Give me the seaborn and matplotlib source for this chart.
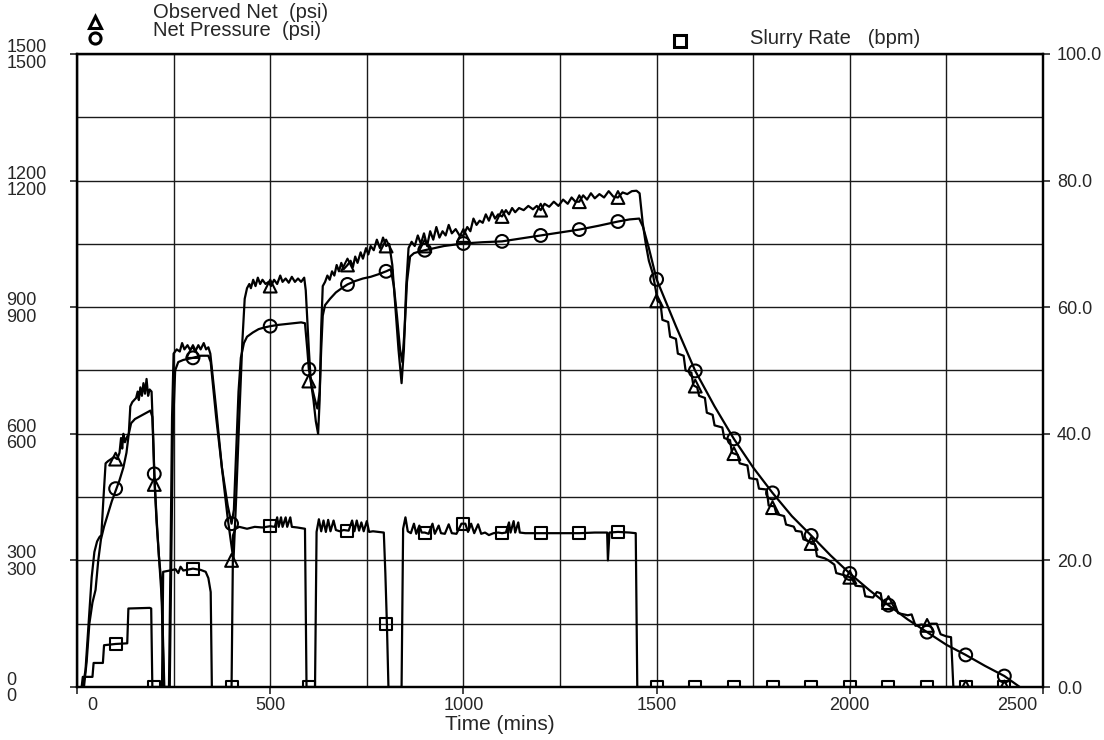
import matplotlib
matplotlib.use("Agg")
import matplotlib.pyplot as plt
import matplotlib.transforms as mtransforms
from matplotlib.lines import Line2D
from matplotlib.ticker import MultipleLocator
import seaborn as sns

# ---------------- data ----------------
# Observed Net pressure trace (time in mins, psi)
obs_time = [15, 22, 30, 38, 45, 52, 58, 63, 68, 74, 80, 88, 96, 104, 110, 114, 117, 120, 124, 128,
            134, 138, 143, 148, 153, 157, 160, 164, 168, 172, 176, 180, 184, 188, 193, 197, 201, 206,
            212, 218, 225, 238,
            242, 246, 250, 258, 266, 272, 278, 286, 292, 300, 306, 314, 320, 328, 334, 340, 345, 360,
            375, 390, 405, 412, 420, 428, 434, 440, 446, 450, 456, 462, 468, 474, 480, 488, 496, 502,
            510, 518, 526, 532, 540, 548, 556, 564, 572, 580, 588, 592, 600, 605, 612, 618, 624, 628,
            632, 636, 642, 648, 654, 660, 666, 672, 678, 684, 690, 700, 708, 714, 720, 726, 734, 740,
            748, 754, 760, 768, 776, 784, 792, 800, 808, 816, 824, 832, 840, 846, 852, 858, 866, 874,
            882, 890, 898, 906, 914, 922, 930, 938, 946, 954, 962, 970, 980, 990, 1000, 1010, 1018,
            1026, 1034, 1042, 1050, 1058, 1066, 1074, 1082, 1090, 1100, 1110, 1118, 1126, 1134, 1144,
            1156, 1168, 1180, 1190, 1200, 1210, 1222, 1234, 1246, 1258, 1270, 1280, 1290, 1300, 1310,
            1320, 1330, 1340, 1352, 1364, 1376, 1388, 1400, 1412, 1424, 1436, 1448, 1456, 1464, 1472,
            1480, 1490, 1498, 1502, 1510, 1515, 1530, 1535, 1550, 1555, 1570, 1575, 1590, 1595, 1605,
            1610, 1625, 1630, 1645, 1650, 1670, 1675, 1690, 1695, 1710, 1715, 1735, 1740, 1760, 1765,
            1785, 1790, 1805, 1810, 1830, 1835, 1855, 1860, 1875, 1880, 1895, 1900, 1910, 1915, 1935,
            1945, 1960, 1965, 1985, 1995, 2005, 2015, 2035, 2040, 2060, 2070, 2080, 2085, 2105, 2115,
            2125, 2150, 2160, 2170, 2185, 2200, 2210, 2225, 2235, 2250, 2262, 2268, 2400]
obs_psi = [0, 40, 150, 260, 320, 345, 355, 360, 440, 530, 535, 540, 545, 540, 555, 590, 565, 600, 580, 590,
           600, 665, 675, 680, 685, 700, 680, 710, 690, 720, 695, 730, 690, 705, 700, 600, 480, 390,
           310, 250, 0, 0,
           300, 640, 790, 800, 795, 815, 800, 810, 800, 805, 795, 810, 800, 815, 800, 805, 790, 660,
           520, 400, 300, 450, 640, 820, 920, 945, 955, 945, 965, 950, 970, 955, 965, 955, 960, 950,
           965, 955, 975, 960, 968, 958, 972, 960, 968, 960, 970, 940, 800, 725, 680, 630, 600, 680,
           850, 950, 960, 975, 965, 985, 975, 1000, 985, 1005, 990, 1000, 1010, 995, 1020, 1005, 1030, 1015,
           1040, 1025, 1045, 1035, 1060, 1040, 1065, 1045, 1050, 1000, 900, 800, 720, 800, 950, 1040, 1055, 1045,
           1070, 1050, 1075, 1045, 1080, 1060, 1090, 1065, 1080, 1070, 1095, 1075, 1085, 1070, 1070, 1090, 1080,
           1110, 1095, 1105, 1100, 1120, 1105, 1125, 1110, 1120, 1115, 1130, 1120, 1135, 1125, 1135,
           1130, 1140, 1132, 1140, 1130, 1145, 1138, 1150, 1140, 1155, 1145, 1160, 1150, 1150, 1165,
           1155, 1170, 1158, 1168, 1160, 1175, 1162, 1160, 1172, 1168, 1175, 1176, 1170, 1100, 1050,
           1010, 980, 940, 915, 910, 870, 865, 830, 825, 790, 785, 750, 745, 715, 710,
           690, 685, 650, 645, 620, 615, 590, 585, 555, 550, 530, 525, 495, 492, 470,
           468, 430, 428, 410, 405, 385, 380, 370, 368, 350, 345, 340, 338, 310, 305,
           300, 290, 270, 265, 262, 258, 240, 238, 215, 212, 225, 222, 195, 198, 200,
           175, 170, 172, 145, 148, 146, 150, 150, 125, 120, 118, 0, 0]

# Net Pressure trace (time in mins, psi)
net_time = [18, 25, 32, 40, 48, 55, 62, 70, 80, 90, 100, 110, 120, 128, 134, 140, 150, 160, 170, 180,
            190, 195, 200, 206, 212, 220, 226, 240, 244, 248, 254, 262, 275, 290, 300, 320, 340, 346,
            360, 375, 390, 400, 406, 412, 418, 424, 432, 440, 455, 470, 485, 500, 520, 540, 560, 580,
            590, 596, 600, 608, 616, 622, 628, 632, 636, 642, 655, 670, 685, 700, 720, 740, 760, 780,
            800, 812, 820, 828, 836, 842, 848, 854, 862, 872, 886, 900, 925, 950, 975, 1000, 1050,
            1100, 1150, 1200, 1250, 1300, 1350, 1400, 1430, 1455, 1465, 1480, 1500, 1550, 1600, 1650,
            1700, 1750, 1800, 1850, 1900, 1950, 2000, 2050, 2100, 2150, 2200, 2250, 2300, 2350, 2400,
            2440]
net_psi = [0, 60, 150, 200, 230, 300, 350, 380, 410, 440, 465, 490, 520, 555, 600, 625, 635, 640, 645, 650,
           655, 640, 505, 400, 310, 200, 0, 0, 300, 600, 750, 770, 775, 778, 780, 785, 785, 770,
           640, 520, 430, 387, 420, 560, 700, 780, 815, 830, 840, 848, 852, 855, 858, 860, 862, 864,
           862, 800, 753, 710, 680, 660, 700, 800, 880, 905, 920, 935, 945, 954, 962, 968, 972, 978,
           985, 990, 950, 880, 800, 770, 850, 960, 1020, 1028, 1032, 1035, 1040, 1045, 1048, 1051, 1054,
           1056, 1063, 1070, 1077, 1084, 1093, 1103, 1108, 1110, 1090, 1040, 966, 855, 749, 665,
           588, 520, 460, 405, 359, 312, 269, 230, 194, 160, 130, 100, 76, 50, 26,
           0]

# Slurry Rate trace (time in mins, bpm)
slurry_time = [12, 15, 40, 43, 67, 70, 100, 130, 133, 188, 192, 195, 220, 223, 240, 255, 262, 268, 275,
               300, 320, 333, 340, 346, 349, 400, 404, 410, 420, 440, 460, 480, 500, 512, 518, 522, 528,
               532, 540, 544, 552, 556, 570, 590, 594, 616, 620, 626, 632, 638, 644, 650, 656, 664, 670,
               680, 690, 703, 712, 718, 724, 730, 736, 742, 750, 756, 766, 780, 794, 798, 802, 806, 840,
               844, 850, 856, 864, 872, 878, 886, 892, 900, 910, 920, 926, 936, 942, 952, 962, 970, 982,
               995, 1005, 1012, 1020, 1028, 1038, 1046, 1056, 1066, 1078, 1090, 1100, 1110, 1118, 1122,
               1130, 1134, 1142, 1146, 1160, 1180, 1200, 1250, 1300, 1340, 1372, 1374, 1378, 1400, 1430,
               1446, 1450, 2400]
slurry_bpm = [0, 1.6, 1.6, 3.8, 3.8, 6.6, 6.8, 6.9, 12.4, 12.5, 12.4, 0, 0, 18.2, 18.4, 18.6, 18.0, 19.0, 18.4,
              18.7, 18.5, 18.2, 17.2, 15.0, 0, 0, 24.0, 25.0, 25.3, 25.0, 25.3, 25.2, 25.4, 25.3, 26.8, 25.3, 26.8,
              25.3, 26.8, 25.3, 26.8, 25.3, 25.2, 25.0, 0, 0, 24.5, 26.5, 24.6, 26.3, 24.5, 26.4, 24.6, 26.3, 24.8,
              24.6, 24.8, 24.7, 26.3, 24.6, 26.3, 24.7, 26.0, 24.6, 26.2, 24.5, 24.6, 24.5, 24.4, 18.0, 10.0, 0, 0,
              25.0, 26.8, 24.6, 24.3, 25.8, 24.2, 25.5, 24.4, 24.4, 24.2, 25.8, 24.2, 25.5, 24.3, 24.2, 25.7, 24.3, 24.2,
              25.8, 25.8, 24.5, 25.8, 24.3, 25.7, 24.2, 24.4, 24.0, 24.3, 24.4, 24.3, 24.4, 26.0, 24.4,
              26.2, 24.4, 26.0, 24.4, 24.3, 24.3, 24.3, 24.3, 24.3, 24.4, 24.4, 20.0, 24.4, 24.5, 24.4,
              24.3, 0, 0]

# Symbols plotted every 100 minutes
mark_time = [100, 200, 300, 400, 500, 600, 700, 800, 900, 1000, 1100, 1200, 1300, 1400,
             1500, 1600, 1700, 1800, 1900, 2000, 2100, 2200, 2300, 2400]
obs_marks = [540, 480, 795, 300, 950, 725, 1000, 1045, 1045, 1070, 1115, 1130, 1150, 1160,
             915, 713, 553, 425, 340, 260, 200, 146, 0, 0]
net_marks = [470, 505, 780, 387, 855, 753, 954, 985, 1035, 1051, 1056, 1070, 1084, 1103,
             966, 749, 588, 460, 359, 269, 194, 130, 76, 26]
slurry_marks = [6.8, 0, 18.7, 0, 25.4, 0, 24.7, 10.0, 24.4, 25.8, 24.3, 24.3, 24.3, 24.5,
                0, 0, 0, 0, 0, 0, 0, 0, 0, 0]

psi_ticks = [0, 300, 600, 900, 1200, 1500]
bpm_ticks = [0, 20, 40, 60, 80, 100]
time_ticks = [0, 500, 1000, 1500, 2000, 2500]

legend_left = ["Observed Net  (psi)", "Net Pressure  (psi)"]
legend_right = "Slurry Rate   (bpm)"
x_label = "Time (mins)"

# ---------------- drawing ----------------
sns.set_style("white")
plt.rcParams['font.family'] = ['Liberation Sans', 'DejaVu Sans']

W, H = 1104, 740
fig = plt.figure(figsize=(W / 100, H / 100), dpi=100)
L, R, T, B = 77, 1043, 54, 687
ax = fig.add_axes([L / W, 1 - B / H, (R - L) / W, (B - T) / H])
ax2 = ax.twinx()

ax.set_xlim(0, 2500)
ax.set_ylim(0, 1500)
ax2.set_ylim(0, 100)

line_kw = dict(color="black", linewidth=1.6, sort=False, estimator=None, legend=False)
sns.lineplot(x=obs_time, y=obs_psi, ax=ax, **line_kw)
sns.lineplot(x=net_time, y=net_psi, ax=ax, **line_kw)
sns.lineplot(x=slurry_time, y=slurry_bpm, ax=ax2, **line_kw)

mk_kw = dict(facecolor="none", edgecolor="black", linewidth=1.5, legend=False, zorder=5)
sns.scatterplot(x=mark_time, y=obs_marks, marker="^", s=85, ax=ax, **mk_kw)
sns.scatterplot(x=mark_time, y=net_marks, marker="o", s=85, ax=ax, **mk_kw)
sns.scatterplot(x=mark_time, y=slurry_marks, marker="s", s=75, ax=ax2, **mk_kw)

# grid
ax.xaxis.set_minor_locator(MultipleLocator(250))
ax.yaxis.set_minor_locator(MultipleLocator(150))
ax.grid(True, which="both", color="#1a1a1a", linewidth=1.0)
ax.set_axisbelow(True)

# ticks and labels
tick_fs = 13
ax.set_xticks(time_ticks)
ax.set_xticklabels([str(v) for v in time_ticks], fontsize=tick_fs)
ax.set_yticks(psi_ticks)
ax.set_yticklabels([f"{v}\n{v}" for v in psi_ticks], fontsize=tick_fs, ha="left", linespacing=0.95)
ax.tick_params(axis="y", which="major", direction="out", length=5, width=1.2, pad=46, left=True)
ax.tick_params(axis="x", which="major", direction="out", length=5, width=1.2, pad=2, bottom=True)
ax.tick_params(which="minor", length=0)

ax2.set_yticks(bpm_ticks)
ax2.set_yticklabels([f"{v:.1f}" for v in bpm_ticks], fontsize=tick_fs)
ax2.tick_params(axis="y", direction="out", length=5, width=1.2, pad=5, right=True)
ax2.grid(False)

for a in (ax, ax2):
    for sp in a.spines.values():
        sp.set_color("black")
        sp.set_linewidth(1.6)

ax.set_xlabel(x_label, fontsize=15)
ax.xaxis.set_label_coords((500 - L) / (R - L), -(715 - B) / (B - T))
ax.set_ylabel("")
ax2.set_ylabel("")

# shift end labels of the time axis inward as in the reference
xt = ax.xaxis.get_major_ticks()
xt[0].label1.set_transform(xt[0].label1.get_transform() +
                           mtransforms.ScaledTranslation(15 / 100, 0, fig.dpi_scale_trans))
xt[-1].label1.set_transform(xt[-1].label1.get_transform() +
                            mtransforms.ScaledTranslation(-26 / 100, 0, fig.dpi_scale_trans))

# header legend
def fx(px):
    return px / W

def fy(py):
    return 1 - py / H

leg_mk = dict(color="black", markerfacecolor="none", markeredgecolor="black",
              markeredgewidth=2.2, linestyle="none", transform=fig.transFigure)
fig.add_artist(Line2D([fx(95)], [fy(22)], marker="^", markersize=8, **leg_mk))
fig.add_artist(Line2D([fx(95)], [fy(38)], marker="o", markersize=8, **leg_mk))
fig.add_artist(Line2D([fx(680)], [fy(41)], marker="s", markersize=8, **leg_mk))
fig.text(fx(153), fy(13), legend_left[0], fontsize=14.5, va="center", ha="left")
fig.text(fx(153), fy(31), legend_left[1], fontsize=14.5, va="center", ha="left")
fig.text(fx(750), fy(38), legend_right, fontsize=14.5, va="center", ha="left")

fig.savefig("out.png", dpi=100, facecolor="white")
